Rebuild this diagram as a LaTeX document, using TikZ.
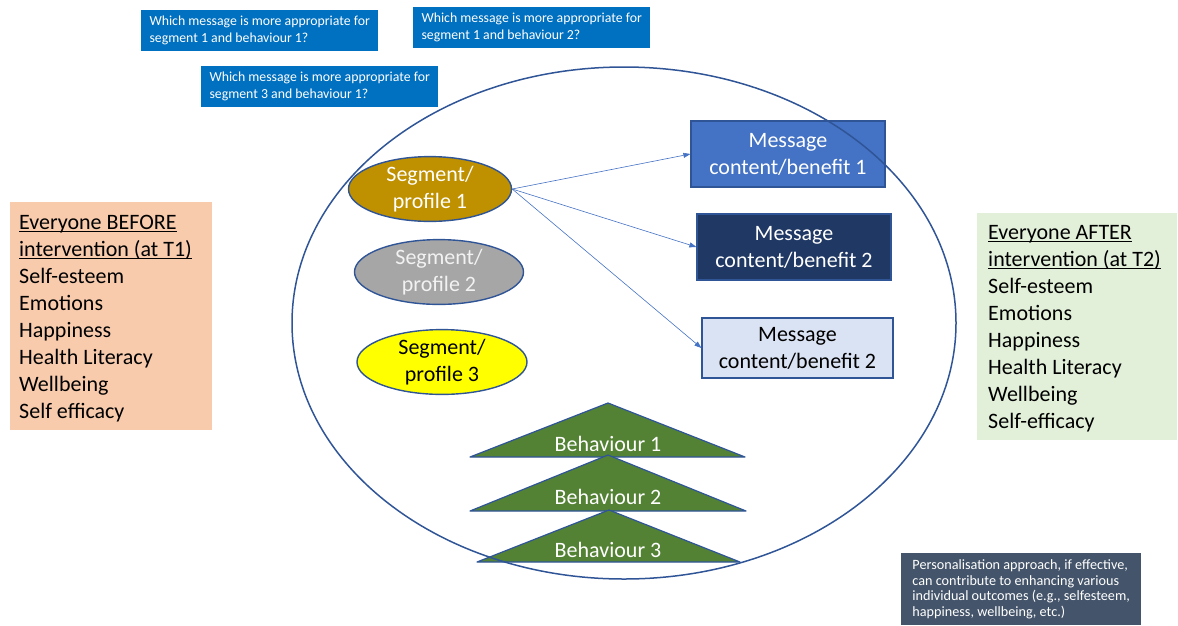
\documentclass[tikz,border=0pt]{standalone}
\usepackage{fontspec}
\setmainfont{Carlito}
\usetikzlibrary{shapes.geometric,arrows.meta}

\definecolor{qblue}{HTML}{0070C0}
\definecolor{edgeblue}{HTML}{2F5597}
\definecolor{arrowblue}{HTML}{4472C4}
\definecolor{msgmid}{HTML}{4472C4}
\definecolor{msgdark}{HTML}{203864}
\definecolor{msglight}{HTML}{DAE3F3}
\definecolor{seggold}{HTML}{BF9000}
\definecolor{seggrey}{HTML}{A6A6A6}
\definecolor{segyellow}{HTML}{FFFF00}
\definecolor{behgreen}{HTML}{548235}
\definecolor{peach}{HTML}{F8CBAD}
\definecolor{palegreen}{HTML}{E2F0D9}
\definecolor{slate}{HTML}{44546A}

\begin{document}
\begin{tikzpicture}[x=1pt,y=-1pt,
  big/.style={font=\fontsize{22}{27}\selectfont},
  question/.style={fill=qblue,text=white,anchor=north west,align=flush left,inner sep=0pt,
    minimum width=237pt,minimum height=41pt,font=\fontsize{13.8}{16.8}\selectfont},
  segment/.style={ellipse,draw=edgeblue,line width=1.4pt,inner sep=0pt,align=center,big},
  message/.style={rectangle,draw=edgeblue,line width=1.2pt,minimum width=194pt,
    minimum height=66pt,align=center,big},
  behaviour/.style={fill=behgreen,draw=edgeblue,line width=1.2pt,line join=round},
  outcomes/.style={anchor=north west,align=flush left,big},
  link/.style={arrowblue,line width=0.6pt,-{Triangle[length=7pt,width=5pt]}}]
\useasboundingbox (0,0) rectangle (1178,625);

% questions
\node (q1) [question] at (141,10) {Which message is more appropriate for\\segment 1 and behaviour 1?};
\node (q2) [question] at (413,7) {Which message is more appropriate for\\segment 1 and behaviour 2?};
\node (q3) [question] at (201,66) {Which message is more appropriate for\\segment 3 and behaviour 1?};

% before / after
\node (before) [outcomes,fill=peach,text width=184pt,inner xsep=9pt,inner ysep=0pt,minimum height=228pt] at (10,202)
  {\strut\underline{\smash{Everyone BEFORE}}\\\strut\underline{\smash{intervention (at T1)}}\\Self-esteem\\Emotions\\Happiness\\Health Literacy\\Wellbeing\\Self efficacy};
\node (after) [outcomes,fill=palegreen,text width=178pt,inner xsep=11pt,inner ysep=0pt,minimum height=227pt] at (977,213)
  {\strut\underline{\smash{Everyone AFTER}}\\\strut\underline{\smash{intervention (at T2)}}\\Self-esteem\\Emotions\\Happiness\\Health Literacy\\Wellbeing\\Self-efficacy};

% behaviours
\draw[behaviour] (470,457) -- (608,403) -- (745,457) -- cycle;
\draw[behaviour] (470,511) -- (608,455) -- (746,511) -- cycle;
\draw[behaviour] (477,562) -- (609,510) -- (740,562) -- cycle;
\node (beh1) [big,text=white] at (608,444) {Behaviour 1};
\node (beh2) [big,text=white] at (608,497) {Behaviour 2};
\node (beh3) [big,text=white] at (608,550) {Behaviour 3};

% segments
\node (seg1) [segment,fill=seggold,text=white,minimum width=163pt,minimum height=62pt] at (430,189) {Segment/\\profile 1};
\node (seg2) [segment,fill=seggrey,text=white!95!black,minimum width=169pt,minimum height=56pt] at (439,272) {Segment/\\profile 2};
\node (seg3) [segment,fill=segyellow,text=black,minimum width=170pt,minimum height=60pt] at (442,362) {Segment/\\profile 3};

% messages
\node (msg1) [message,fill=msgmid,text=white] at (788,154) {Message\\content/benefit 1};
\node (msg2) [message,fill=msgdark,text=white] at (794,247) {Message\\content/benefit 2};
\node (msg3) [message,fill=msglight,text=black,minimum width=191pt,minimum height=60pt] at (797.5,348) {Message\\content/benefit 2};

\draw[link] (seg1.east) -- (msg1.west);
\draw[link] (seg1.east) -- (msg2.west);
\draw[link] (seg1.east) -- (msg3.west);

% frame
\node (frame) [ellipse,draw=edgeblue,line width=1.5pt,inner sep=0pt,minimum width=664pt,minimum height=512pt] at (624,323) {};

% note
\node (note) [fill=slate,text=white,align=flush left,inner sep=0pt,minimum width=240pt,minimum height=72pt,
  font=\fontsize{14.2}{15.4}\selectfont,anchor=north west] at (901,553)
  {Personalisation approach, if effective,\\can contribute to enhancing various\\individual outcomes (e.g., selfesteem,\\happiness, wellbeing, etc.)};
\end{tikzpicture}
\end{document}
